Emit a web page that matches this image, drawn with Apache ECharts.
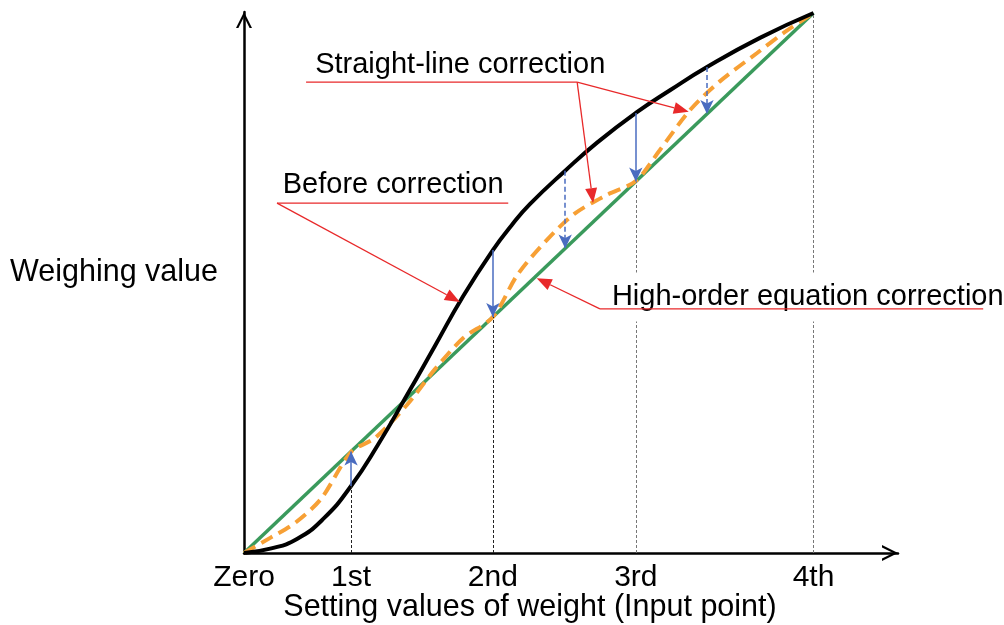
<!DOCTYPE html>
<html>
<head>
<meta charset="utf-8">
<script src="https://cdn.jsdelivr.net/npm/echarts@6/dist/echarts.min.js"></script>
<style>html,body{margin:0;padding:0;background:#fff}#c{width:1004px;height:625px}</style>
</head>
<body>
<div id="c"></div>
<script>
// ---- data (units: 4th input point = 100 on both axes) ----
const tickValues = [0, 18.8, 43.7, 68.8, 100];
const tickNames = ['Zero', '1st', '2nd', '3rd', '4th'];

const beforeX = [0, 4.6, 9.3, 14.0, 18.8, 23.5, 28.6, 33.5, 38.5, 43.7, 47.0, 50.2, 56.4, 62.0, 68.8, 74.8, 81.3, 90.6, 100];
const beforeY = [0, 0.8, 2.6, 6.4, 12.4, 20.0, 29.2, 38.3, 47.6, 56.1, 60.7, 64.6, 70.8, 76.0, 81.5, 85.7, 90.0, 95.4, 100];

const idealX = [0, 100];
const idealY = [0, 100];

const straightX = [0, 4.6, 9.0, 13.5, 18.8, 23.0, 28.6, 33.5, 38.5, 43.7, 48.0, 53.2, 58.0, 63.5, 68.8, 73.0, 78.3, 83.5, 90.1, 95.0, 100];
const straightY = [0, 2.8, 5.6, 10.0, 18.7, 21.3, 27.4, 34.0, 39.8, 43.7, 51.5, 58.0, 62.8, 66.2, 68.9, 74.6, 82.0, 87.3, 92.6, 96.5, 100];

const arrowX = [18.8, 43.7, 56.4, 68.8, 81.3];
const arrowFromY = [12.4, 56.1, 70.8, 81.5, 90.0];
const arrowToY = [18.8, 43.7, 56.4, 68.8, 81.3];
const arrowDashed = [false, false, true, false, true];

const guideTopY = [12.4, 43.7, 68.8, 100];   // for 1st..4th

const annTexts = ['Straight-line correction', 'Before correction', 'High-order equation correction'];
const annTextPos = [[12.5, 90.3], [6.8, 68.1], [63.9, 47.4]];
const annUnderlines = [[[10.9, 87.2], [58.5, 87.2]], [[5.8, 64.8], [46.4, 64.8]], [[62.5, 45.2], [129.8, 45.2]]];
const annArrows = [[[58.5, 87.2], [78.1, 81.7]], [[58.5, 87.2], [61.3, 64.8]], [[5.8, 64.8], [37.9, 46.5]], [[62.5, 45.2], [51.4, 50.9]]];

// ---- chart ----
const FONT_FAMILY = '"Liberation Sans", Arial, sans-serif';
const zip = (xs, ys) => xs.map((x, i) => [x, ys[i]]);
const axisArrow = 'path://M0,16 L8,0 L16,16 L13.6,16 L8,4.8 L2.4,16 Z';

const chart = echarts.init(document.getElementById('c'), null, { renderer: 'canvas' });

const guideLines = tickValues.slice(1).map((x, i) => {
  const ls = { color: i < 2 ? '#222' : '#777', width: 1, type: [3, 2] };
  return [{ coord: [x, 0], lineStyle: ls }, { coord: [x, guideTopY[i]], lineStyle: ls }];
});

const blueArrows = arrowX.map((x, i) => {
  const ls = { color: '#4A6CC0', width: 1.5, type: arrowDashed[i] ? [5, 3] : 'solid' };
  return [{ coord: [x, arrowFromY[i]], lineStyle: ls }, { coord: [x, arrowToY[i]], lineStyle: ls }];
});

chart.setOption({
  animation: false,
  grid: { left: 244, right: 106, top: 12, bottom: 72, containLabel: false, outerBoundsMode: 'none' },
  xAxis: {
    type: 'value', min: 0, max: 114.84,
    axisLine: { show: true, lineStyle: { color: '#000', width: 2.5 }, symbol: ['none', axisArrow], symbolSize: [16, 16], symbolOffset: [0, -8] },
    axisTick: { show: false },
    splitLine: { show: false },
    axisLabel: {
      customValues: tickValues,
      formatter: v => { let b = 0; tickValues.forEach((t, i) => { if (Math.abs(t - v) < Math.abs(tickValues[b] - v)) b = i; }); return tickNames[b]; },
      fontSize: 30, color: '#000', fontFamily: FONT_FAMILY, margin: 10
    },
    name: 'Setting values of weight (Input point)',
    nameLocation: 'middle', nameGap: 39, nameMoveOverlap: false,
    nameTextStyle: { fontSize: 30.5, color: '#000', fontFamily: FONT_FAMILY, padding: [0, 82, 0, 0] }
  },
  yAxis: {
    type: 'value', min: 0, max: 100.19,
    axisLine: { show: true, lineStyle: { color: '#000', width: 2.5 }, symbol: ['none', axisArrow], symbolSize: [16, 16], symbolOffset: [0, -8] },
    axisTick: { show: false },
    splitLine: { show: false },
    axisLabel: { show: false },
    name: 'Weighing value',
    nameLocation: 'middle', nameGap: 26, nameRotate: 0, nameMoveOverlap: false,
    nameTextStyle: { fontSize: 30.5, color: '#000', fontFamily: FONT_FAMILY, verticalAlign: 'bottom', lineHeight: 20 }
  },
  series: [
    {
      type: 'line', name: 'Ideal', data: zip(idealX, idealY), showSymbol: false, silent: true, z: 2,
      lineStyle: { color: '#3A9A5C', width: 3.5 },
      markLine: { silent: true, symbol: ['none', 'none'], label: { show: false }, animation: false, data: guideLines }
    },
    {
      type: 'line', name: 'Straight-line correction', data: zip(straightX, straightY), smooth: 0.3, showSymbol: false, silent: true, z: 3,
      lineStyle: { color: '#F7A035', width: 4, type: [13, 7] }
    },
    {
      type: 'line', name: 'Before correction', data: zip(beforeX, beforeY), smooth: 0.5, showSymbol: false, silent: true, z: 4,
      lineStyle: { color: '#000', width: 4 },
      markLine: { silent: true, symbol: ['none', 'arrow'], symbolSize: [10, 14], label: { show: false }, animation: false, data: blueArrows }
    }
  ]
});

// ---- annotations ----
const px = p => chart.convertToPixel({ gridIndex: 0 }, p);
const RED = '#E8292A';
const g = [];
annTexts.forEach((t, i) => {
  const p = px(annTextPos[i]);
  const st = { text: t, fill: '#000', font: '29px ' + FONT_FAMILY, align: 'left', verticalAlign: 'middle', textAlign: 'left', textVerticalAlign: 'middle' };
  if (i === 2) { st.backgroundColor = '#fff'; st.padding = [10, 4]; }
  g.push({ type: 'text', x: p[0], y: p[1], z: 20, silent: true, style: st });
});
annUnderlines.forEach(seg => {
  const a = px(seg[0]), b = px(seg[1]);
  g.push({ type: 'line', z: 21, silent: true, shape: { x1: a[0], y1: a[1], x2: b[0], y2: b[1] }, style: { stroke: RED, lineWidth: 1.3 } });
});
annArrows.forEach(seg => {
  const a = px(seg[0]), b = px(seg[1]);
  const dx = b[0] - a[0], dy = b[1] - a[1], len = Math.hypot(dx, dy);
  const ux = dx / len, uy = dy / len, nx = -uy, ny = ux;
  const L = 15, W = 12;
  const bx = b[0] - ux * L, by = b[1] - uy * L;
  g.push({ type: 'line', z: 21, silent: true, shape: { x1: a[0], y1: a[1], x2: bx, y2: by }, style: { stroke: RED, lineWidth: 1.3 } });
  g.push({ type: 'polygon', z: 21, silent: true, shape: { points: [[b[0], b[1]], [bx + nx * W / 2, by + ny * W / 2], [bx - nx * W / 2, by - ny * W / 2]] }, style: { fill: RED } });
});
chart.setOption({ graphic: g });
</script>
</body>
</html>
